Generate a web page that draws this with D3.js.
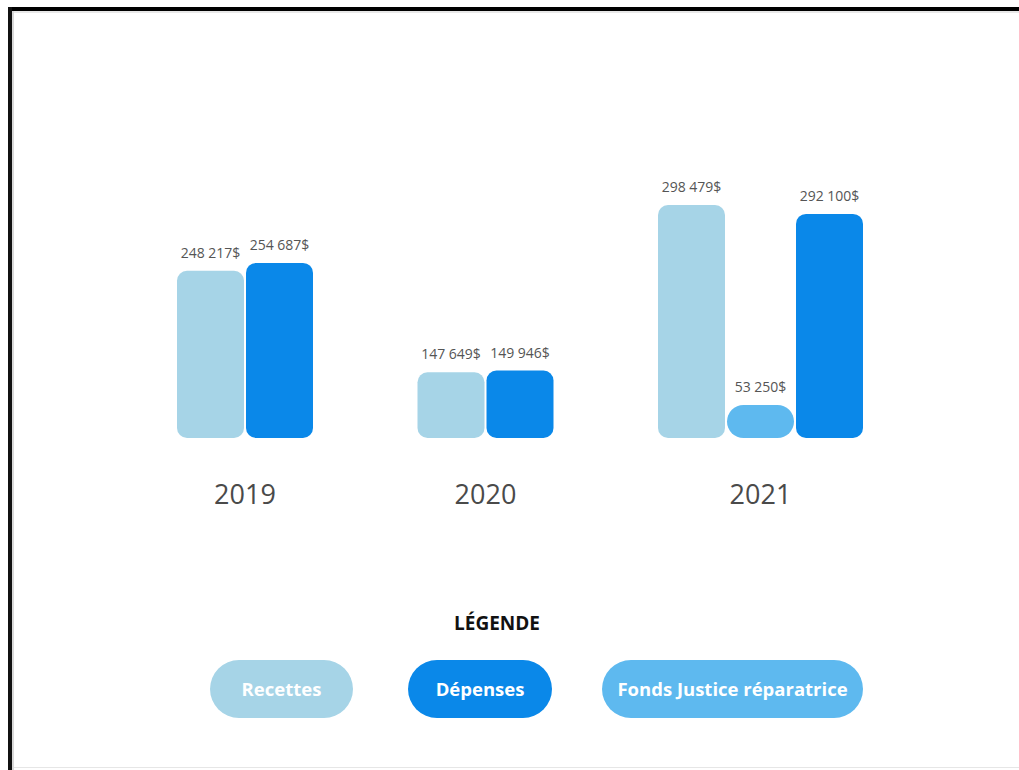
<!DOCTYPE html>
<html>
<head>
<meta charset="utf-8">
<script src="https://cdn.jsdelivr.net/npm/d3@7"></script>
<style>
  html, body { margin: 0; padding: 0; background: #fff; }
  svg { display: block; font-family: "Open Sans", sans-serif; }
</style>
</head>
<body>
<svg id="chart" width="1019" height="770"></svg>
<script>
// data
var years = ["2019", "2020", "2021"];
var series = ["Recettes", "Fonds Justice réparatrice", "Dépenses"];
var recettes = [248217, 147649, 298479];
var fonds = [null, null, 53250];
var depenses = [254687, 149946, 292100];
var legendLabels = ["Recettes", "Dépenses", "Fonds Justice réparatrice"];

var colors = {
    "Recettes": "#a6d4e7",
    "Dépenses": "#0a88e9",
    "Fonds Justice réparatrice": "#5eb9ef"
};

var svg = d3.select("#chart");

// frame
svg.append("rect").attr("x", 12).attr("y", 11).attr("width", 1007).attr("height", 757).attr("fill", "#fff");
svg.append("rect").attr("x", 8).attr("y", 7).attr("width", 1011).attr("height", 4).attr("fill", "#000");
svg.append("rect").attr("x", 8).attr("y", 7).attr("width", 4).attr("height", 763).attr("fill", "#111");
svg.append("rect").attr("x", 12).attr("y", 11).attr("width", 1007).attr("height", 2).attr("fill", "#e8e8e8");
svg.append("rect").attr("x", 12).attr("y", 11).attr("width", 2).attr("height", 759).attr("fill", "#d8d8d8");
svg.append("rect").attr("x", 14).attr("y", 767).attr("width", 1005).attr("height", 1).attr("fill", "#e6e6e6");

const baseline = 438;
const barW = 67, gap = 2;

// build rows: bars per year in order, skipping missing values
var rows = [];
years.forEach(function (y, i) {
    var vals = [recettes[i], fonds[i], depenses[i]];
    var k = 0;
    series.forEach(function (s, j) {
        if (vals[j] == null) return;
        rows.push({ year: y, serie: s, value: vals[j], slot: k });
        k++;
    });
});

var xScale = d3.scaleBand()
    .domain(years)
    .range([177, 177 + 3 * 240.5])
    .paddingInner(0)
    .paddingOuter(0);

// heights look stretched, not linear
var hScale = d3.scalePow()
    .exponent(1.8)
    .domain([0, d3.max(rows, d => d.value)])
    .range([0, 233]);

var minH = 33;
function barH(d) { return Math.max(hScale(d.value), minH); }

var bars = svg.append("g");
bars.selectAll("rect")
    .data(rows)
    .enter()
    .append("rect")
    .attr("x", d => xScale(d.year) + d.slot * (barW + gap))
    .attr("y", d => baseline - barH(d))
    .attr("width", barW)
    .attr("height", d => barH(d))
    .attr("rx", d => barH(d) < 40 ? barH(d) / 2 : 10)
    .attr("fill", d => colors[d.serie]);

// value labels
var fmt = function (v) { return d3.format(",")(v).replace(/,/g, " ") + "$"; };
bars.selectAll("text")
    .data(rows)
    .enter()
    .append("text")
    .attr("x", d => xScale(d.year) + d.slot * (barW + gap) + barW / 2)
    .attr("y", d => baseline - barH(d) - 13)
    .attr("text-anchor", "middle")
    .style("font-size", "14px")
    .style("fill", "#555")
    .text(d => fmt(d.value));

// year labels
svg.append("g").selectAll("text")
    .data(years)
    .enter()
    .append("text")
    .attr("x", function (y) {
        var n = rows.filter(d => d.year === y).length;
        return xScale(y) + (n * barW + (n - 1) * gap) / 2;
    })
    .attr("y", 504)
    .attr("text-anchor", "middle")
    .style("font-size", "27px")
    .style("fill", "#4a4a4a")
    .text(d => d);

// legend
svg.append("text")
    .attr("x", 497)
    .attr("y", 630)
    .attr("text-anchor", "middle")
    .style("font-size", "19px")
    .style("font-weight", "700")
    .style("fill", "#111")
    .text("LÉGENDE");

var pillX = [210, 408, 602];
var pillW = [143, 144, 261];

var legend = svg.append("g").selectAll("g")
    .data(legendLabels)
    .enter()
    .append("g")
    .attr("transform", (d, i) => `translate(${pillX[i]},660)`);

legend.append("rect")
    .attr("width", (d, i) => pillW[i])
    .attr("height", 58)
    .attr("rx", 29)
    .attr("fill", d => colors[d]);

legend.append("text")
    .attr("x", (d, i) => pillW[i] / 2)
    .attr("y", 36)
    .attr("text-anchor", "middle")
    .style("font-size", "18.5px")
    .style("font-weight", "700")
    .style("fill", "#fff")
    .text(d => d);
</script>
</body>
</html>
